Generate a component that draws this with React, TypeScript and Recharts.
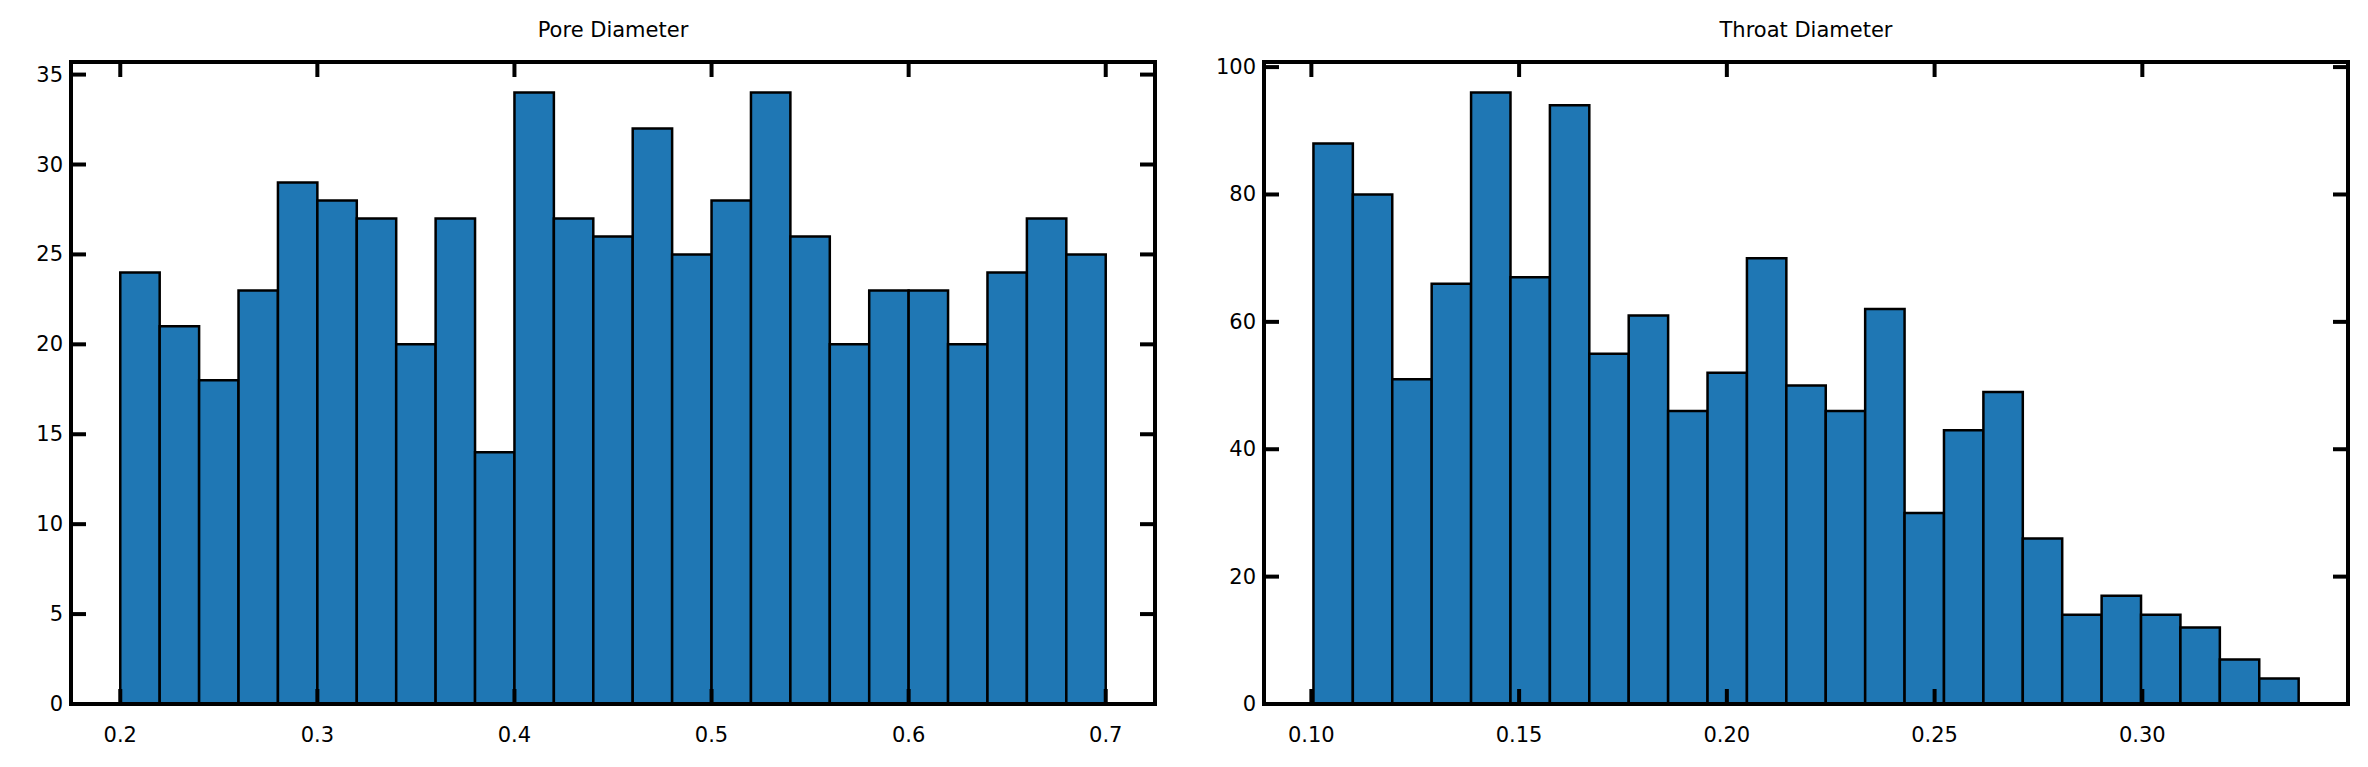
import React from "react";
import { ComposedChart, XAxis, YAxis, ReferenceArea } from "recharts";

// histogram counts
const poreCounts = [24, 21, 18, 23, 29, 28, 27, 20, 27, 14, 34, 27, 26, 32, 25, 28, 34, 26, 20, 23, 23, 20, 24, 27, 25];
const poreStart = 0.2;
const poreWidth = 0.02;
const poreXTicks = [0.2, 0.3, 0.4, 0.5, 0.6, 0.7];
const poreYTicks = [0, 5, 10, 15, 20, 25, 30, 35];

const throatCounts = [88, 80, 51, 66, 96, 67, 94, 55, 61, 46, 52, 70, 50, 46, 62, 30, 43, 49, 26, 14, 17, 14, 12, 7, 4];
const throatStart = 0.1005;
const throatWidth = 0.009485;
const throatXTicks = [0.1, 0.15, 0.2, 0.25, 0.3];
const throatYTicks = [0, 20, 40, 60, 80, 100];

const W = 1184;
const H = 767;
const TOP = 62;
const BOTTOM = 704;
const FONT = "DejaVu Sans, sans-serif";
const TICK = 15;

type HistProps = {
  title: string;
  counts: number[];
  start: number;
  width: number;
  xTicks: number[];
  yTicks: number[];
  xDomain: [number, number];
  yMax: number;
  left: number;
  right: number;
  digits: number;
};

const Hist = ({ title, counts, start, width, xTicks, yTicks, xDomain, yMax, left, right, digits }: HistProps) => {
  const data = counts.map((c, i) => ({ x0: start + i * width, x1: start + (i + 1) * width, count: c }));
  const plotRight = W - right;

  const XTick = (props: any) => {
    const { x, payload } = props;
    return (
      <g>
        <line x1={x} x2={x} y1={BOTTOM} y2={BOTTOM - TICK} stroke="#000" strokeWidth={4} />
        <line x1={x} x2={x} y1={TOP} y2={TOP + TICK} stroke="#000" strokeWidth={4} />
        <text x={x} y={BOTTOM + 38} textAnchor="middle" fontSize={21} fontFamily={FONT} fill="#000">
          {payload.value.toFixed(digits)}
        </text>
      </g>
    );
  };

  const YTick = (props: any) => {
    const { y, payload } = props;
    return (
      <g>
        <line x1={left} x2={left + TICK} y1={y} y2={y} stroke="#000" strokeWidth={4} />
        <line x1={plotRight} x2={plotRight - TICK} y1={y} y2={y} stroke="#000" strokeWidth={4} />
        <text x={left - 8} y={y + 7} textAnchor="end" fontSize={21} fontFamily={FONT} fill="#000">
          {payload.value}
        </text>
      </g>
    );
  };

  return (
    <div style={{ position: "relative", width: W, height: H }}>
      <div
        style={{
          position: "absolute",
          top: 18,
          left: left,
          width: W - left - right,
          textAlign: "center",
          fontFamily: FONT,
          fontSize: 21,
        }}
      >
        {title}
      </div>
      <ComposedChart width={W} height={H} data={data} margin={{ top: TOP, right: right, bottom: 0, left: 0 }}>
        <XAxis
          type="number"
          dataKey="x0"
          domain={xDomain}
          ticks={xTicks}
          allowDataOverflow
          axisLine={false}
          tickLine={false}
          height={H - BOTTOM}
          tick={<XTick />}
        />
        <YAxis
          type="number"
          domain={[0, yMax]}
          ticks={yTicks}
          allowDataOverflow
          axisLine={false}
          tickLine={false}
          width={left}
          tick={<YTick />}
        />
        {data.map((d, i) => (
          <ReferenceArea
            key={i}
            x1={d.x0}
            x2={d.x1}
            y1={0}
            y2={d.count}
            fill="#1f77b4"
            fillOpacity={1}
            stroke="#000"
            strokeWidth={2.5}
            strokeOpacity={1}
          />
        ))}
        <ReferenceArea
          x1={xDomain[0]}
          x2={xDomain[1]}
          y1={0}
          y2={yMax}
          fill="none"
          stroke="#000"
          strokeWidth={4}
          strokeOpacity={1}
        />
      </ComposedChart>
    </div>
  );
};

export default function App() {
  return (
    <div style={{ position: "absolute", left: 0, top: 0, display: "flex", width: 2368, height: 767, background: "#fff" }}>
      <Hist
        title="Pore Diameter"
        counts={poreCounts}
        start={poreStart}
        width={poreWidth}
        xTicks={poreXTicks}
        yTicks={poreYTicks}
        xDomain={[0.175, 0.725]}
        yMax={35.7}
        left={71}
        right={29}
        digits={1}
      />
      <Hist
        title="Throat Diameter"
        counts={throatCounts}
        start={throatStart}
        width={throatWidth}
        xTicks={throatXTicks}
        yTicks={throatYTicks}
        xDomain={[0.0886, 0.3495]}
        yMax={100.8}
        left={80}
        right={20}
        digits={2}
      />
    </div>
  );
}
